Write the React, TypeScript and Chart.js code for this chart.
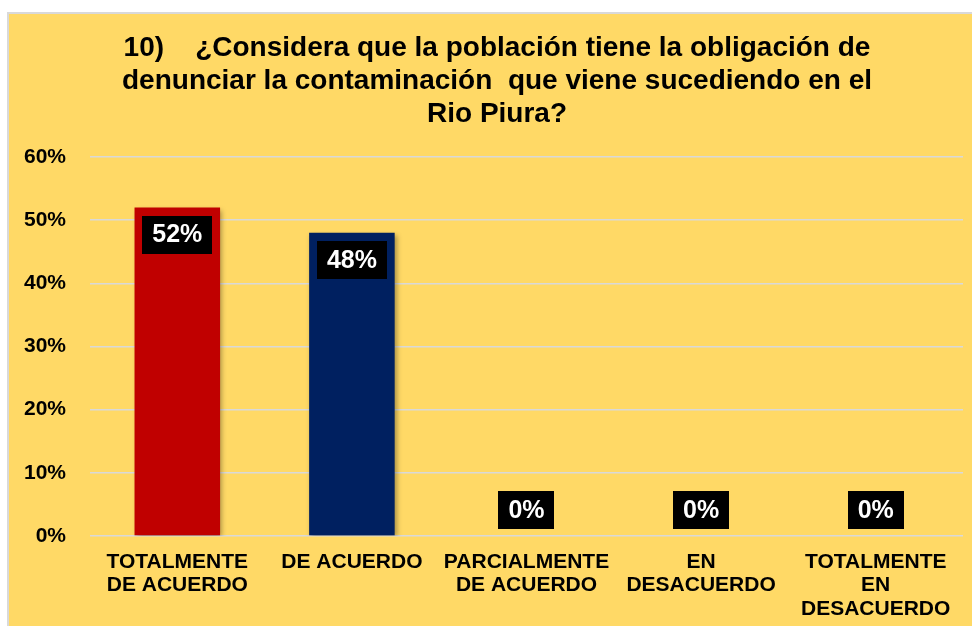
import React, { useEffect, useRef } from "react";
import { Chart, registerables } from "chart.js";

Chart.register(...registerables);

const titleLines = [
  "10)\u00A0\u00A0\u00A0\u00A0¿Considera que la población tiene la obligación de",
  "denunciar la contaminación\u00A0 que viene sucediendo en el",
  "Rio Piura?",
];
const categories = [
  ["TOTALMENTE", "DE ACUERDO"],
  ["DE ACUERDO"],
  ["PARCIALMENTE", "DE ACUERDO"],
  ["EN", "DESACUERDO"],
  ["TOTALMENTE", "EN", "DESACUERDO"],
];
const values = [52, 48, 0, 0, 0];
const barColors = ["#C00000", "#002060", "#C00000", "#C00000", "#C00000"];
const yTicks = [0, 10, 20, 30, 40, 50, 60];

const FONT = "'Liberation Sans', Arial, sans-serif";
const W = 963;
const H = 612;

const titlePlugin = {
  id: "customTitle",
  afterDraw(chart: any) {
    const ctx = chart.ctx;
    ctx.save();
    ctx.fillStyle = "#000";
    ctx.font = `bold 28px ${FONT}`;
    ctx.textAlign = "center";
    ctx.textBaseline = "alphabetic";
    const cx = 488;
    const base = [42, 75, 108];
    titleLines.forEach((t, i) => ctx.fillText(t, cx, base[i]));
    ctx.restore();
  },
};

const shadowPlugin = {
  id: "barShadow",
  beforeDatasetsDraw(chart: any) {
    const ctx = chart.ctx;
    ctx.save();
    ctx.shadowColor = "rgba(0,0,0,0.35)";
    ctx.shadowBlur = 5;
    ctx.shadowOffsetX = 2;
    ctx.shadowOffsetY = 2;
  },
  afterDatasetsDraw(chart: any) {
    chart.ctx.restore();
  },
};

const labelPlugin = {
  id: "boxLabels",
  afterDatasetsDraw(chart: any) {
    const ctx = chart.ctx;
    const meta = chart.getDatasetMeta(0);
    ctx.save();
    ctx.font = `bold 25px ${FONT}`;
    ctx.textAlign = "center";
    ctx.textBaseline = "middle";
    meta.data.forEach((el: any, i: number) => {
      const v = values[i];
      const text = `${v}%`;
      const tw = ctx.measureText(text).width;
      const bw = tw + 20;
      const bh = 38;
      let top: number;
      if (v > 0) {
        top = el.y + 8;
      } else {
        top = el.base - 7 - bh;
      }
      ctx.fillStyle = "#000";
      ctx.fillRect(Math.round(el.x - bw / 2), Math.round(top), Math.round(bw), bh);
      ctx.fillStyle = "#fff";
      ctx.fillText(text, el.x, top + bh / 2 + 1);
    });
    ctx.restore();
  },
};

export default function App() {
  const ref = useRef<HTMLCanvasElement>(null);
  useEffect(() => {
    if (!ref.current) return;
    const chart = new Chart(ref.current, {
      type: "bar",
      data: {
        labels: categories as any,
        datasets: [
          {
            data: values,
            backgroundColor: barColors,
            borderWidth: 0,
            barPercentage: 0.49,
            categoryPercentage: 1,
          },
        ],
      },
      options: {
        animation: false,
        responsive: false,
        devicePixelRatio: 1,
        layout: { padding: { top: 143, right: 9, left: 0, bottom: 0 } },
        plugins: {
          legend: { display: false },
          title: { display: false },
          tooltip: { enabled: false },
        },
        scales: {
          x: {
            grid: { display: false },
            border: { display: false },
            ticks: {
              color: "#000",
              font: { family: FONT, size: 21, weight: "bold", lineHeight: 1.1 },
              padding: 7,
              maxRotation: 0,
              autoSkip: false,
            },
            afterFit(scale: any) {
              scale.height = 90;
            },
          },
          y: {
            min: 0,
            max: 60,
            afterBuildTicks(scale: any) {
              scale.ticks = yTicks.map((v) => ({ value: v }));
            },
            grid: { color: "#D9D9D9", lineWidth: 1.5, drawTicks: false },
            border: { display: false },
            ticks: {
              color: "#000",
              font: { family: FONT, size: 21, weight: "bold" },
              padding: 24,
              callback: (v: any) => `${v}%`,
            },
            afterFit(scale: any) {
              scale.width = 81;
            },
          },
        },
      },
      plugins: [titlePlugin, shadowPlugin, labelPlugin],
    });
    return () => chart.destroy();
  }, []);
  return (
    <div
      style={{
        position: "absolute",
        left: 7,
        top: 12,
        width: W,
        height: H,
        borderLeft: "2px solid #D9D9D9",
        borderTop: "2px solid #D9D9D9",
        background: "#FFD966",
      }}
    >
      <canvas ref={ref} width={W} height={H} style={{ display: "block", width: W, height: H }} />
    </div>
  );
}
